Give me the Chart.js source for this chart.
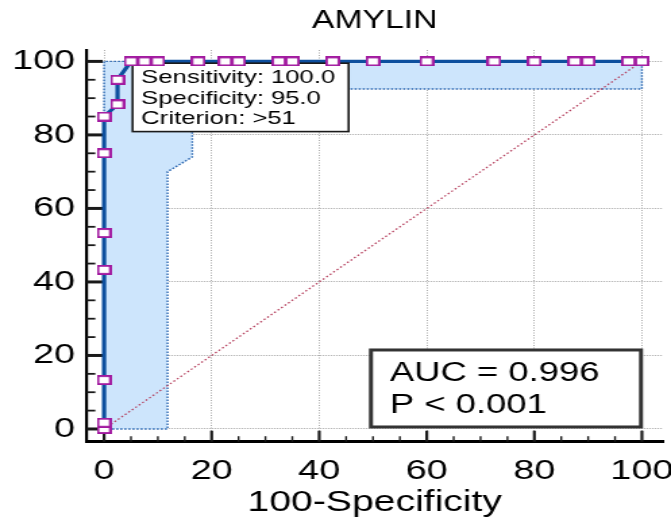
<!DOCTYPE html>
<html>
<head>
<meta charset="utf-8">
<title>AMYLIN ROC</title>
<script src="https://cdn.jsdelivr.net/npm/chart.js@4.4.1/dist/chart.umd.min.js"></script>
<style>
  html, body { margin: 0; padding: 0; background: #fff; overflow: hidden; }
  /* the original graph is stretched sideways, so draw narrow and widen */
  #wrap { width: 497px; height: 518px; transform: scaleX(1.3501); transform-origin: 0 0; }
</style>
</head>
<body>
<div id="wrap"><canvas id="roc" width="497" height="518"></canvas></div>
<script>
// ROC points: 100-Specificity (x) and Sensitivity (y)
const rocFpr  = [0, 0, 0, 0, 0, 0, 0, 2.5, 2.5, 5, 7.5, 10, 17.5, 22.5, 25, 32.5, 35, 42.5, 50, 60, 72.5, 80, 87.5, 90, 97.5, 100];
const rocSens = [0, 1.7, 13.3, 43.3, 53.3, 75, 85, 88.3, 95, 100, 100, 100, 100, 100, 100, 100, 100, 100, 100, 100, 100, 100, 100, 100, 100, 100];

// 95% confidence band outline (closed shape)
const bandFpr  = [0, 11.8, 11.8, 16.4, 16.4, 100, 100, 0, 0];
const bandSens = [0, 0, 70, 74, 92.5, 92.5, 100, 100, 0];

// reference diagonal
const diagFpr  = [0, 100];
const diagSens = [0, 100];

const tickStep = 20;
const minorStep = 5;

const calloutPoint = { x: 5, y: 100 };
const calloutLines = ['Sensitivity: 100.0', 'Specificity: 95.0', 'Criterion: >51'];
const aucLines = ['AUC = 0.996', 'P < 0.001'];

const FONT = "'Liberation Sans', Arial, sans-serif";
Chart.defaults.font.family = FONT;
Chart.defaults.color = '#000';

const toXY = (xs, ys) => xs.map((x, i) => ({ x: x, y: ys[i] }));

// white box with purple edge, a bit wider than tall
function makeMarker() {
    const c = document.createElement('canvas');
    c.width = 11;
    c.height = 10;
    const g = c.getContext('2d');
    g.fillStyle = '#fff';
    g.fillRect(0, 0, 11, 10);
    g.strokeStyle = '#a21aa0';
    g.lineWidth = 1.9;
    g.strokeRect(0.95, 0.95, 9.1, 8.1);
    return c;
}

function drawInwardTicks(chart) {
    const { ctx, chartArea: a, scales: { x, y } } = chart;
    ctx.save();
    ctx.strokeStyle = '#1a1a1a';
    for (let v = 0; v <= 100; v += minorStep) {
        const major = v % tickStep === 0;
        const px = x.getPixelForValue(v);
        ctx.lineWidth = major ? 2.2 : 1.4;
        ctx.beginPath();
        ctx.moveTo(px, a.bottom);
        ctx.lineTo(px, a.bottom - (major ? 11 : 5.5));
        ctx.stroke();

        const py = y.getPixelForValue(v);
        ctx.lineWidth = major ? 3 : 1.8;
        ctx.beginPath();
        ctx.moveTo(a.left, py);
        ctx.lineTo(a.left + (major ? 12 : 6.5), py);
        ctx.stroke();
    }
    ctx.restore();
}

function drawCallout(chart) {
    const { ctx, scales: { x, y } } = chart;
    const left = x.getPixelForValue(calloutPoint.x) + 1.2;
    const top = y.getPixelForValue(calloutPoint.y) + 1.8;
    const w = 160, h = 68.4;
    ctx.save();
    ctx.fillStyle = '#fff';
    ctx.fillRect(left, top, w, h);
    ctx.strokeStyle = '#1a1a1a';
    ctx.lineWidth = 1.6;
    ctx.strokeRect(left, top, w, h);
    ctx.fillStyle = '#000';
    ctx.font = '19px ' + FONT;
    ctx.textBaseline = 'alphabetic';
    calloutLines.forEach((t, i) => ctx.fillText(t, left + 6.4, top + 20 + i * 20.5));
    ctx.restore();
}

function drawAucBox(chart) {
    const { ctx, scales: { x, y } } = chart;
    const right = x.getPixelForValue(100) - 0.7;
    const bottom = y.getPixelForValue(0) - 2;
    const w = 200, h = 77;
    const left = right - w, top = bottom - h;
    ctx.save();
    ctx.fillStyle = '#fff';
    ctx.fillRect(left, top, w, h);
    ctx.strokeStyle = '#333';
    ctx.lineWidth = 3;
    ctx.strokeRect(left, top, w, h);
    ctx.fillStyle = '#000';
    ctx.font = '27px ' + FONT;
    aucLines.forEach((t, i) => ctx.fillText(t, left + 14, top + 31 + i * 32));
    ctx.restore();
}

const rocDecor = {
    id: 'rocDecor',
    beforeDatasetsDraw(chart) {
        drawInwardTicks(chart);
    },
    afterDatasetDraw(chart, args) {
        if (args.index === 1) drawCallout(chart);
    },
    afterDatasetsDraw(chart) {
        drawAucBox(chart);
    }
};

const ctx = document.getElementById('roc').getContext('2d');
const chart = new Chart(ctx, {
    type: 'line',
    data: {
        datasets: [
            {
                label: 'points',
                data: toXY(rocFpr, rocSens),
                showLine: false,
                pointStyle: makeMarker(),
                pointRadius: 5,
                order: 0
            },
            {
                label: 'ROC',
                data: toXY(rocFpr, rocSens),
                borderColor: '#0d4f9e',
                borderWidth: 3.2,
                pointRadius: 0,
                fill: false,
                tension: 0,
                order: 1
            },
            {
                label: 'diagonal',
                data: toXY(diagFpr, diagSens),
                borderColor: '#b5405e',
                borderWidth: 1.3,
                borderDash: [1.5, 2],
                pointRadius: 0,
                fill: false,
                order: 2
            },
            {
                label: '95% CI',
                data: toXY(bandFpr, bandSens),
                borderColor: '#2a66b0',
                borderWidth: 1.4,
                borderDash: [1.6, 1.4],
                backgroundColor: '#cde5fc',
                pointRadius: 0,
                fill: 'shape',
                tension: 0,
                order: 3
            }
        ]
    },
    options: {
        responsive: false,
        animation: false,
        events: [],
        layout: { padding: 0 },
        plugins: {
            legend: { display: false },
            tooltip: { enabled: false },
            title: {
                display: true,
                text: 'AMYLIN',
                fullSize: false,
                color: '#000',
                font: { size: 25, weight: 'normal', lineHeight: 1.2 },
                padding: { top: 6.6, bottom: 13.4 }
            }
        },
        scales: {
            x: {
                type: 'linear',
                min: -3.26,
                max: 103.9,
                ticks: {
                    stepSize: tickStep,
                    includeBounds: false,
                    padding: 13,
                    maxRotation: 0,
                    autoSkip: false,
                    font: { size: 28 }
                },
                grid: { color: '#a8a8a8', lineWidth: 1, drawTicks: false },
                border: { display: true, color: '#000', width: 3, dash: [1, 1.5] },
                title: {
                    display: true,
                    text: '100-Specificity',
                    font: { size: 29, lineHeight: 1 },
                    padding: { top: 0, bottom: 1 }
                },
                afterFit(s) {
                    s.height = 76.3;
                    s.paddingLeft = 0;
                    s.paddingRight = 0;
                }
            },
            y: {
                type: 'linear',
                min: -3.46,
                max: 103.1,
                ticks: {
                    stepSize: tickStep,
                    includeBounds: false,
                    padding: 8.5,
                    font: { size: 28 }
                },
                grid: { color: '#a8a8a8', lineWidth: 1, drawTicks: false },
                border: { display: true, color: '#000', width: 2.2, dash: [1, 1] },
                afterFit(s) {
                    s.width = 64.1;
                    s.paddingTop = 0;
                    s.paddingBottom = 0;
                }
            }
        }
    },
    plugins: [rocDecor]
});
</script>
</body>
</html>
